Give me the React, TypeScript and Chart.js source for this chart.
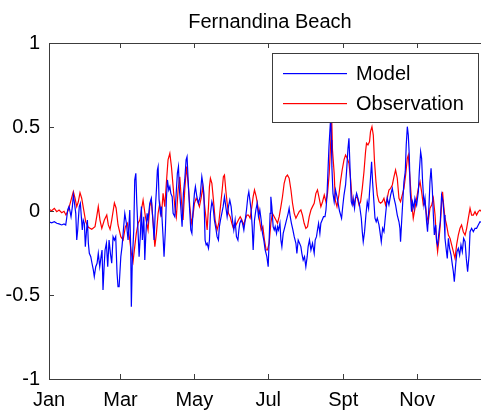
import { useEffect, useRef } from 'react';
import { Chart, registerables } from 'chart.js';

Chart.register(...registerables);

const chartTitle = 'Fernandina Beach';
const monthTickDays = [0, 59, 120, 181, 243, 304];
const monthTickLabels = ['Jan', 'Mar', 'May', 'Jul', 'Spt', 'Nov'];
const valueTicks = [-1, -0.5, 0, 0.5, 1];
const seriesNames = ['Model', 'Observation'];
const seriesColors = ['#0000ff', '#ff0000'];

// Model sea-level anomaly (day of year, value)
const modelDays = [
  0, 2.2, 4.4, 6.4, 8.3, 10.5, 12.4, 13.8, 14.6, 15.4, 16.5, 17.4, 18.2, 19.3, 20.1, 20.9, 22.1, 22.9, 23.7, 24.2,
  25.0, 25.9, 26.7, 27.5, 28.3, 29.2, 30.0, 30.8, 31.7, 32.5, 33.3, 34.5, 35.5, 36.6, 37.4, 38.6, 39.7, 40.7, 41.9, 43.0,
  43.8, 44.6, 45.5, 46.3, 47.4, 48.5, 49.6, 50.7, 51.8, 52.9, 54.0, 55.1, 56.2, 57.0, 57.9, 59.3, 60.3, 61.2, 62.6, 63.9,
  65.3, 66.7, 67.5, 68.0, 68.8, 70.0, 70.8, 71.7, 72.5, 73.6, 74.4, 75.5, 76.3, 77.1, 78.3, 79.1, 79.9, 81.0, 81.8, 83.2,
  84.5, 86.0, 86.8, 87.9, 88.7, 89.5, 90.1, 90.9, 92.0, 92.8, 94.2, 95.0, 96.1, 96.9, 97.8, 98.9, 99.8, 100.6, 101.7, 102.5,
  103.9, 105.2, 106.0, 106.9, 107.7, 108.8, 109.9, 111.0, 112.1, 113.2, 114.0, 114.9, 116.0, 117.1, 118.0, 118.8, 120.1, 120.9, 122.1, 123.4,
  124.8, 126.2, 127.0, 127.9, 128.9, 129.8, 130.6, 131.7, 132.5, 133.3, 134.5, 135.5, 136.6, 138.0, 138.8, 139.9, 140.7, 141.6, 142.7, 143.8,
  144.9, 146.0, 147.1, 148.2, 149.3, 150.4, 151.5, 152.6, 153.7, 154.8, 156.0, 156.8, 157.6, 158.7, 159.8, 160.9, 162.0, 163.1, 164.2, 165.0,
  165.9, 166.9, 167.8, 168.6, 169.7, 170.8, 171.9, 173.0, 174.1, 175.2, 176.3, 177.4, 178.5, 179.9, 181.0, 181.8, 182.6, 183.2, 184.0, 185.1,
  186.0, 186.8, 187.9, 188.7, 189.5, 190.7, 191.5, 192.3, 193.4, 194.8, 196.1, 197.5, 198.3, 199.2, 200.2, 201.4, 202.5, 203.9, 204.7, 205.8,
  206.9, 208.0, 208.8, 209.9, 211.0, 212.1, 213.2, 214.0, 215.1, 216.3, 217.6, 219.0, 219.8, 220.9, 221.7, 222.6, 223.7, 224.5, 225.6, 226.7,
  227.9, 228.7, 229.5, 230.3, 231.2, 232.0, 232.6, 233.2, 233.6, 234.5, 235.5, 236.6, 237.8, 238.8, 239.9, 241.6, 242.7, 243.6, 244.9, 245.7,
  246.9, 247.7, 248.5, 249.6, 250.4, 251.2, 252.3, 253.1, 254.0, 255.1, 256.4, 257.9, 258.7, 259.5, 260.6, 261.7, 262.8, 263.9, 264.7, 265.5,
  266.4, 267.2, 268.3, 269.2, 270.2, 271.1, 272.5, 273.3, 274.4, 275.5, 276.6, 277.9, 279.3, 280.7, 282.1, 283.5, 284.9, 286.2, 287.6, 289.0,
  289.8, 290.3, 291.2, 292.3, 293.1, 294.2, 295.0, 295.9, 296.7, 297.5, 298.3, 299.4, 300.2, 301.4, 302.2, 303.6, 305.0, 305.8, 306.9, 307.7,
  308.5, 309.7, 310.5, 311.8, 312.6, 313.8, 314.6, 315.5, 316.5, 317.4, 318.2, 319.3, 320.1, 320.9, 322.1, 323.1, 324.2, 325.4, 326.2, 327.0,
  327.9, 328.9, 329.8, 330.8, 332.0, 333.1, 333.9, 334.7, 335.8, 336.9, 338.0, 339.1, 340.2, 341.3, 342.4, 343.6, 344.6, 345.7, 346.9, 347.7,
  349.0, 350.4, 351.8, 353.1, 354.5, 355.9, 358, 361, 364,
];
const modelValues = [
  -0.064, -0.07, -0.064, -0.073, -0.077, -0.083, -0.077, -0.083, -0.043, 0.006, 0.026, -0.004, -0.034, 0.026, 0.095, 0.055, -0.014, -0.173, -0.113, -0.054,
  0.026, 0.046, -0.034, -0.113, -0.054, -0.073, -0.212, -0.133, -0.054, -0.192, -0.252, -0.272, -0.311, -0.351, -0.391, -0.332, -0.311, -0.252, -0.332, -0.272,
  -0.232, -0.47, -0.332, -0.232, -0.192, -0.332, -0.173, -0.252, -0.311, -0.153, -0.173, -0.153, -0.371, -0.451, -0.451, -0.272, -0.212, -0.133, -0.014, -0.073,
  -0.173, 0.006, -0.232, -0.57, -0.292, -0.113, 0.185, 0.224, 0.046, -0.133, -0.272, -0.133, 0.026, -0.173, -0.034, -0.292, -0.153, -0.014, -0.054, 0.046,
  0.076, -0.073, -0.173, 0.026, 0.125, 0.244, 0.264, 0.065, -0.014, 0.026, -0.153, -0.272, -0.113, 0.065, 0.185, 0.125, 0.145, 0.105, 0.085, -0.014,
  -0.034, 0.125, 0.224, 0.264, 0.125, 0.026, -0.093, 0.105, 0.185, 0.304, 0.323, 0.185, 0.026, -0.113, -0.133, -0.014, 0.105, 0.145, 0.085, 0.046,
  0.085, 0.204, 0.165, 0.105, -0.173, -0.202, -0.192, -0.222, -0.173, -0.014, 0.055, 0.026, -0.054, -0.113, -0.153, -0.173, -0.093, -0.054, -0.014, 0.026,
  0.085, 0.026, -0.034, 0.026, 0.065, 0.026, -0.054, -0.113, -0.054, -0.153, -0.173, -0.113, -0.073, -0.054, -0.073, -0.113, -0.054, 0.006, 0.085, 0.115,
  0.065, 0.006, -0.093, -0.232, -0.054, 0.006, 0.046, -0.034, 0.006, -0.054, -0.133, -0.173, -0.232, -0.272, -0.332, -0.173, -0.014, 0.085, 0.026, -0.093,
  -0.113, -0.093, -0.133, -0.093, -0.113, -0.073, -0.173, -0.212, -0.133, -0.093, -0.054, -0.014, 0.016, -0.034, -0.073, -0.113, -0.153, -0.192, -0.252, -0.173,
  -0.192, -0.212, -0.252, -0.292, -0.272, -0.332, -0.272, -0.212, -0.173, -0.232, -0.192, -0.252, -0.173, -0.153, -0.113, -0.073, -0.133, -0.073, -0.054, -0.034,
  -0.034, 0.006, 0.085, 0.224, 0.383, 0.482, 0.554, 0.423, 0.264, 0.105, 0.055, 0.125, 0.085, 0.046, 0.0, -0.043, 0.036, 0.095, 0.155, 0.234,
  0.373, 0.433, 0.274, 0.055, 0.036, 0.076, 0.016, 0.076, 0.105, 0.076, 0.036, -0.043, -0.123, -0.183, -0.123, -0.024, 0.055, 0.016, 0.115, 0.195,
  0.293, 0.174, 0.055, -0.043, -0.064, -0.043, -0.083, -0.123, -0.183, -0.103, -0.123, -0.024, 0.076, 0.036, 0.095, 0.135, 0.076, 0.036, -0.024, -0.064,
  -0.103, -0.183, -0.064, 0.076, 0.174, 0.234, 0.393, 0.502, 0.452, 0.333, 0.115, -0.004, 0.055, 0.016, 0.076, 0.036, 0.115, 0.234, 0.353, 0.314,
  0.174, 0.036, 0.076, -0.064, -0.123, 0.036, 0.174, 0.254, 0.135, -0.024, -0.143, -0.083, -0.183, -0.202, -0.123, -0.064, 0.095, 0.055, -0.024, -0.163,
  -0.222, -0.282, -0.163, -0.222, -0.262, -0.321, -0.361, -0.421, -0.321, -0.242, -0.222, -0.262, -0.202, -0.242, -0.163, -0.183, -0.282, -0.361, -0.262, -0.123,
  -0.103, -0.123, -0.103, -0.103, -0.083, -0.064, -0.07, -0.06, -0.05,
];

// Observed sea-level anomaly (day of year, value)
const obsDays = [
  0, 2.2, 4.4, 6.4, 8.3, 10.5, 12.4, 14.0, 16.0, 18.2, 20.1, 21.5, 22.9, 24.2, 25.6, 27.0, 28.9, 30.3, 32.5, 35.3,
  38.0, 39.4, 40.7, 42.1, 43.6, 45.7, 47.7, 49.0, 50.4, 51.8, 54.0, 55.4, 57.0, 59.3, 61.2, 63.1, 64.7, 66.7, 68.0, 69.4,
  70.8, 72.1, 73.6, 75.0, 76.3, 77.7, 79.6, 81.8, 83.2, 84.5, 86.0, 87.4, 88.7, 90.1, 91.5, 92.8, 94.2, 95.6, 96.9, 98.3,
  99.8, 101.1, 102.5, 103.9, 105.2, 106.6, 108.0, 109.3, 110.7, 112.1, 113.5, 114.9, 116.3, 117.6, 118.8, 120.1, 121.5, 122.9, 124.2, 125.6,
  127.0, 128.3, 129.8, 130.6, 131.7, 132.5, 133.3, 134.5, 135.8, 137.2, 138.8, 140.2, 141.6, 143.0, 144.0, 144.9, 146.0, 147.1, 148.2, 149.6,
  151.0, 152.3, 153.7, 155.1, 156.4, 157.9, 159.3, 160.6, 162.0, 163.4, 164.7, 166.1, 167.5, 168.6, 169.7, 171.1, 172.5, 173.8, 175.2, 176.6,
  177.9, 179.3, 180.4, 181.8, 183.2, 184.5, 186.0, 187.4, 188.7, 190.1, 191.5, 192.8, 194.2, 195.6, 196.9, 198.3, 199.8, 201.1, 202.5, 203.9,
  205.2, 206.6, 208.0, 209.3, 210.7, 212.1, 213.5, 214.9, 216.3, 217.6, 219.0, 220.4, 221.7, 223.1, 224.5, 225.9, 227.3, 228.7, 230.0, 231.4,
  232.2, 233.5, 234.1, 235.5, 236.4, 237.8, 239.4, 240.7, 242.1, 243.6, 244.9, 246.3, 247.7, 249.0, 250.4, 251.8, 253.1, 254.5, 256.0, 257.3,
  258.7, 260.1, 261.4, 262.2, 263.4, 264.7, 265.5, 266.7, 267.8, 268.8, 270.0, 271.1, 272.5, 273.8, 275.2, 276.6, 277.9, 279.3, 280.7, 282.1,
  283.5, 284.9, 286.2, 287.6, 289.0, 290.3, 291.7, 293.1, 294.5, 295.9, 296.7, 298.1, 299.4, 300.8, 302.2, 303.6, 305.0, 306.4, 307.7, 309.1,
  310.5, 311.8, 313.2, 314.6, 316.0, 317.4, 318.8, 320.1, 320.9, 322.1, 323.1, 324.2, 325.0, 325.9, 327.0, 328.3, 329.8, 331.2, 332.5, 333.9,
  335.3, 336.6, 338.0, 339.4, 340.7, 342.1, 343.6, 344.9, 346.3, 347.7, 349.0, 350.4, 351.8, 353.1, 354.5, 355.9, 358, 361, 364,
];
const obsValues = [
  0.01, 0.002, 0.016, -0.004, 0.006, -0.01, -0.002, -0.024, 0.006, 0.065, 0.115, 0.076, 0.026, 0.055, 0.109, 0.076, -0.004, -0.064, -0.097, -0.109,
  -0.093, -0.034, 0.026, -0.054, -0.103, -0.054, -0.024, -0.083, -0.109, -0.054, 0.048, 0.018, -0.083, -0.153, -0.173, -0.093, -0.073, -0.173, -0.252, -0.302,
  -0.212, -0.133, -0.073, -0.054, 0.006, 0.065, -0.034, -0.113, 0.026, 0.065, -0.073, -0.212, -0.133, -0.014, 0.046, -0.034, 0.105, 0.026, 0.165, 0.304,
  0.343, 0.264, 0.145, 0.026, -0.034, 0.125, 0.204, 0.065, -0.054, 0.125, 0.264, 0.165, 0.026, -0.073, -0.034, 0.046, 0.076, 0.055, 0.026, 0.076,
  0.145, 0.046, -0.054, -0.113, 0.026, 0.145, 0.195, 0.165, 0.065, -0.054, -0.113, -0.073, 0.026, 0.125, 0.204, 0.214, 0.125, 0.046, -0.014, -0.034,
  -0.073, -0.103, -0.093, -0.073, -0.054, -0.034, -0.054, -0.083, -0.054, -0.024, -0.024, -0.043, 0.026, 0.085, 0.125, 0.085, 0.026, -0.054, -0.113, -0.093,
  -0.173, -0.232, -0.232, -0.192, -0.073, -0.014, -0.034, -0.054, -0.073, -0.034, 0.026, 0.085, 0.165, 0.204, 0.214, 0.195, 0.125, 0.046, -0.014, -0.043,
  -0.024, -0.004, 0.006, -0.024, -0.073, -0.103, -0.093, -0.034, 0.006, 0.026, 0.046, 0.105, 0.125, 0.076, 0.026, 0.055, 0.095, 0.055, 0.105, 0.224,
  0.343, 0.542, 0.363, 0.224, 0.065, 0.026, 0.095, 0.174, 0.244, 0.304, 0.333, 0.314, 0.284, 0.195, 0.055, 0.036, 0.076, 0.085, 0.036, 0.055,
  0.135, 0.234, 0.353, 0.403, 0.393, 0.413, 0.472, 0.502, 0.452, 0.293, 0.174, 0.095, 0.055, 0.046, 0.055, 0.076, 0.036, 0.076, 0.125, 0.135,
  0.155, 0.204, 0.244, 0.195, 0.076, 0.055, 0.095, 0.135, 0.214, 0.314, 0.333, 0.195, 0.055, -0.043, 0.016, 0.076, 0.135, 0.174, 0.115, 0.036,
  0.055, -0.024, -0.064, 0.016, 0.036, 0.076, -0.024, -0.183, -0.242, -0.163, -0.083, 0.036, 0.115, 0.036, -0.043, -0.083, -0.143, -0.163, -0.202, -0.242,
  -0.282, -0.202, -0.143, -0.103, -0.083, -0.123, -0.143, -0.103, -0.043, 0.016, -0.024, -0.024, -0.004, -0.024, -0.004, 0.006, -0.01, 0.01, 0.0,
];

const FONT_FAMILY = '"Liberation Sans", Arial, Helvetica, sans-serif';
const FRAME_COLOR = '#3c3c3c';

const toPoints = (xs: number[], ys: number[]) => xs.map((x, i) => ({ x, y: ys[i] }));

// Boxed axes with inward ticks, centred title and an in-axes legend
const decorations = {
  id: 'decorations',
  afterDatasetsDraw(chart: any) {
    const { ctx, chartArea, scales } = chart;
    const { left, right, top, bottom } = chartArea;
    const tickLen = 5;
    ctx.save();
    ctx.strokeStyle = FRAME_COLOR;
    ctx.lineWidth = 1;
    ctx.beginPath();
    ctx.rect(Math.round(left) + 0.5, Math.round(top) + 0.5, Math.round(right - left), Math.round(bottom - top));
    ctx.stroke();

    ctx.beginPath();
    monthTickDays.forEach((d) => {
      const px = Math.round(scales.x.getPixelForValue(d)) + 0.5;
      ctx.moveTo(px, bottom);
      ctx.lineTo(px, bottom - tickLen);
      ctx.moveTo(px, top);
      ctx.lineTo(px, top + tickLen);
    });
    valueTicks.forEach((v) => {
      const py = Math.round(scales.y.getPixelForValue(v)) + 0.5;
      ctx.moveTo(left, py);
      ctx.lineTo(left + tickLen, py);
      ctx.moveTo(right, py);
      ctx.lineTo(right - tickLen, py);
    });
    ctx.stroke();

    // title
    ctx.fillStyle = '#000';
    ctx.font = `20px ${FONT_FAMILY}`;
    ctx.textAlign = 'center';
    ctx.textBaseline = 'alphabetic';
    ctx.fillText(chartTitle, (left + right) / 2, 28);

    // legend
    const lx = 272.5;
    const ly = 53.5;
    const lw = 206;
    const lh = 69;
    ctx.fillStyle = '#fff';
    ctx.fillRect(lx, ly, lw, lh);
    ctx.strokeStyle = FRAME_COLOR;
    ctx.strokeRect(lx, ly, lw, lh);
    const rows = [73, 103];
    rows.forEach((ry, i) => {
      ctx.fillStyle = seriesColors[i];
      ctx.fillRect(283, ry, 64, 1.2);
      ctx.fillStyle = '#000';
      ctx.textAlign = 'left';
      ctx.textBaseline = 'middle';
      ctx.fillText(seriesNames[i], 356, ry + 1.5);
    });
    ctx.restore();
  },
};

export default function App() {
  const canvasRef = useRef<HTMLCanvasElement | null>(null);

  useEffect(() => {
    const canvas = canvasRef.current;
    if (!canvas) return;
    const chart = new Chart(canvas, {
      type: 'line',
      data: {
        datasets: [
          {
            label: seriesNames[0],
            data: toPoints(modelDays, modelValues),
            borderColor: seriesColors[0],
            borderWidth: 1.2,
            pointRadius: 0,
            tension: 0,
            order: 0,
          },
          {
            label: seriesNames[1],
            data: toPoints(obsDays, obsValues),
            borderColor: seriesColors[1],
            borderWidth: 1.2,
            pointRadius: 0,
            tension: 0,
            order: 1,
          },
        ],
      },
      options: {
        animation: false,
        responsive: false,
        devicePixelRatio: 1,
        events: [],
        layout: { padding: { top: 43, right: 9, left: 0, bottom: 0 } },
        plugins: {
          legend: { display: false },
          title: { display: false },
          tooltip: { enabled: false },
        },
        scales: {
          x: {
            type: 'linear',
            min: 0,
            max: 365,
            grid: { display: false, drawTicks: false },
            border: { display: false },
            afterBuildTicks: (s: any) => {
              s.ticks = monthTickDays.map((value) => ({ value }));
            },
            afterFit: (s: any) => {
              s.height = 36;
            },
            ticks: {
              autoSkip: false,
              maxRotation: 0,
              padding: 9,
              color: '#000',
              font: { family: FONT_FAMILY, size: 20 },
              callback: (v: any) => monthTickLabels[monthTickDays.indexOf(Number(v))] ?? '',
            },
          },
          y: {
            min: -1,
            max: 1,
            grid: { display: false, drawTicks: false },
            border: { display: false },
            afterBuildTicks: (s: any) => {
              s.ticks = valueTicks.map((value) => ({ value }));
            },
            afterFit: (s: any) => {
              s.width = 49;
            },
            ticks: {
              padding: 9,
              color: '#000',
              font: { family: FONT_FAMILY, size: 20 },
              callback: (v: any) => String(v),
            },
          },
        },
      },
      plugins: [decorations],
    });
    return () => chart.destroy();
  }, []);

  return (
    <div
      style={{
        position: 'fixed',
        left: 0,
        top: 0,
        width: 481,
        height: 415,
        overflow: 'hidden',
        background: '#fff',
      }}
    >
      <canvas ref={canvasRef} width={500} height={415} style={{ display: 'block' }} />
    </div>
  );
}
